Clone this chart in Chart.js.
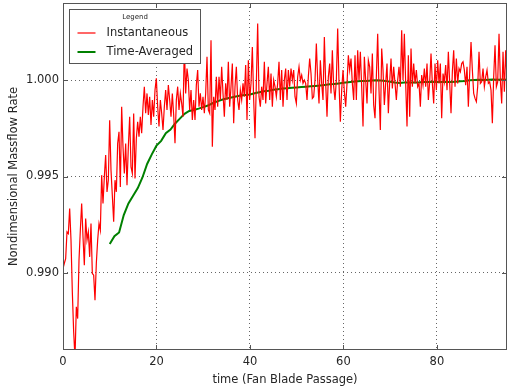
<!DOCTYPE html>
<html>
<head>
<meta charset="utf-8">
<script src="https://cdn.jsdelivr.net/npm/chart.js@4.4.1/dist/chart.umd.min.js"></script>
<style>
    body { margin: 0; background: #fff; }
    canvas { display: block; }
</style>
</head>
<body>
<canvas id="myChart" width="507" height="391"></canvas>
<script>
// spacing between samples of the instantaneous signal (fan blade passages)
const dt = 0.2853;

const instantaneous = [
    0.99022, 0.99050, 0.99074, 0.99213, 0.99204, 0.99334, 0.99170, 0.98900, 0.98694, 0.98560,
    0.98824, 0.98763, 0.99066, 0.99221, 0.99360, 0.99187, 0.99040, 0.99282, 0.99170, 0.99213,
    0.99083, 0.99256, 0.98997, 0.98988, 0.98858, 0.99050, 0.99170, 0.99256, 0.99221, 0.99507,
    0.99360, 0.99498, 0.99611, 0.99420, 0.99481, 0.99792, 0.99533, 0.99400, 0.99265, 0.99481,
    0.99420, 0.99671, 0.99732, 0.99446, 0.99862, 0.99654, 0.99516, 0.99671, 0.99455, 0.99654,
    0.99810, 0.99550, 0.99516, 0.99827, 0.99490, 0.99697,
    0.99784, 0.99707, 0.99810, 0.99724, 0.99862, 0.99966, 0.99828, 0.99931, 0.99819, 0.99914,
    0.99767, 0.99897, 0.99810, 0.99948, 1.00009, 0.99862, 0.99759, 0.99897, 0.99828, 0.99741,
    0.99862, 0.99948, 0.99845, 0.99974, 0.99897, 0.99810, 0.99931, 0.99819, 0.99672, 0.99897,
    0.99966, 0.99845, 0.99931, 0.99879, 0.99810, 1.00180, 0.99931, 1.00060, 1.00000, 0.99845,
    0.99948, 0.99793, 0.99897, 0.99793, 0.99974, 1.00052, 0.99862, 0.99931, 0.99845, 0.99914,
    0.99828, 0.99931, 1.00121,
    0.99845, 0.99828, 1.00207, 0.99655, 0.99914, 0.99845, 1.00017, 0.99862, 1.00017, 0.99897,
    1.00069, 0.99931, 0.99810, 0.99983, 0.99897, 1.00095, 0.99862, 0.99966, 1.00086, 0.99776,
    0.99966, 1.00069, 0.99897, 0.99845, 0.99948, 0.99897, 0.99983, 0.99914, 1.00078, 0.99793,
    1.00103, 0.99897, 0.99983, 1.00172, 0.99897, 0.99698, 0.99983, 1.00293, 0.99914, 0.99862,
    0.99966, 0.99897, 1.00095, 0.99879, 0.99983, 1.00069, 0.99897, 1.00034, 0.99862, 1.00000,
    0.99966, 0.99914, 0.99983, 1.00095, 0.99897, 1.00052, 0.99862,
    1.00000, 1.00060, 0.99897, 1.00052, 0.99966, 1.00060, 1.00000, 1.00052, 0.99914, 0.99879,
    1.00017, 1.00069, 1.00000, 1.00026, 0.99983, 1.00000, 0.99983, 0.99897, 1.00017, 1.00112,
    1.00034, 0.99905, 0.99914, 1.00000, 1.00190, 1.00000, 0.99879, 1.00103, 0.99983, 0.99897,
    1.00224, 0.99983, 0.99810, 1.00017, 1.00086, 0.99931, 1.00155, 0.99966, 0.99897, 1.00000,
    1.00267, 0.99983, 0.99784, 0.99948, 1.00052, 0.99940, 0.99862, 0.99983, 1.00129, 1.00052,
    1.00112, 0.99983, 0.99897, 1.00129, 0.99897, 1.00155, 1.00000,
    1.00147, 0.99966, 0.99759, 1.00121, 1.00000, 0.99879, 1.00103, 1.00069, 0.99931, 1.00138,
    0.99871, 0.99802, 1.00017, 1.00241, 0.99948, 0.99741, 1.00164, 1.00052, 0.99871, 0.99983,
    1.00086, 0.99828, 0.99991, 1.00112, 0.99957, 1.00069, 0.99983, 0.99897, 1.00000, 1.00069,
    0.99966, 1.00259, 1.00000, 1.00241, 0.99983, 0.99759, 1.00129, 0.99810, 1.00164, 0.99966,
    1.00086, 0.99983, 1.00052, 0.99966, 0.99983, 0.99862, 1.00026, 0.99974, 1.00060, 0.99966,
    1.00086, 0.99897, 0.99991, 1.00138, 0.99983, 0.99879,
    1.00086, 0.99948, 1.00103, 0.99983, 1.00086, 0.99802, 1.00034, 0.99991, 1.00078, 0.99948,
    1.00147, 0.99983, 0.99828, 1.00043, 1.00155, 0.99966, 1.00112, 0.99983, 1.00060, 1.00043,
    1.00086, 1.00095, 1.00052, 0.99974, 1.00069, 0.99862, 1.00034, 1.00198, 1.00052, 0.99931,
    0.99905, 0.99888, 0.99966, 1.00147, 0.99983, 0.99991, 1.00060, 0.99966, 1.00017, 1.00052,
    0.99983, 0.99991, 0.99948, 0.99776, 1.00017, 1.00181, 0.99966, 0.99991, 1.00241, 1.00000,
    0.99879, 1.00147, 0.99940, 1.00155, 1.00000
];

// running average, one value per passage starting at t = 10
const avgStart = 10;
const avgStep = 1;
const timeAveraged = [
    0.99150, 0.99190, 0.99210, 0.99300, 0.99360, 0.99400, 0.99440, 0.99495, 0.99565, 0.99615,
    0.99660, 0.99685, 0.99725, 0.99743, 0.99775, 0.99800, 0.99825, 0.99840, 0.99845, 0.99852,
    0.99860, 0.99868, 0.99880, 0.99890, 0.99898, 0.99905, 0.99910, 0.99915, 0.99920, 0.99923,
    0.99925, 0.99932, 0.99937, 0.99942, 0.99945, 0.99950, 0.99953, 0.99956, 0.99958, 0.99960,
    0.99962, 0.99964, 0.99966, 0.99968, 0.99970, 0.99972, 0.99975, 0.99978, 0.99980, 0.99983,
    0.99986, 0.99989, 0.99992, 0.99994, 0.99995, 0.99996, 0.99998, 0.99999, 0.99998, 0.99996,
    0.99992, 0.99988, 0.99985, 0.99987, 0.99988, 0.99987, 0.99988, 0.99990, 0.99990, 0.99991,
    0.99990, 0.99990, 0.99991, 0.99990, 0.99992, 0.99994, 0.99996, 0.99999, 1.00001, 1.00002,
    1.00001, 1.00002, 1.00003, 1.00002, 1.00003, 1.00002
];

const xTicks = [0, 20, 40, 60, 80];
const yTicks = [0.990, 0.995, 1.000];
const xRange = [0, 95];
const yRange = [0.986, 1.004];

const axisColor = '#555';
const textColor = '#262626';

// matplotlib-like frame, inward ticks and a boxed legend inside the axes
const framePlugin = {
    id: 'frame',
    afterDatasetsDraw(chart) {
        const ctx = chart.ctx;
        const a = chart.chartArea;
        const x = chart.scales.x, y = chart.scales.y;
        ctx.save();
        ctx.strokeStyle = axisColor;
        ctx.lineWidth = 1;
        ctx.strokeRect(Math.round(a.left) + 0.5, Math.round(a.top) + 0.5,
            Math.round(a.width) - 1, Math.round(a.height) - 1);
        ctx.beginPath();
        xTicks.forEach(function (v) {
            const px = Math.round(x.getPixelForValue(v)) + 0.5;
            ctx.moveTo(px, a.bottom); ctx.lineTo(px, a.bottom - 5);
            ctx.moveTo(px, a.top); ctx.lineTo(px, a.top + 5);
        });
        yTicks.forEach(function (v) {
            const py = Math.round(y.getPixelForValue(v)) + 0.5;
            ctx.moveTo(a.left, py); ctx.lineTo(a.left + 5, py);
            ctx.moveTo(a.right, py); ctx.lineTo(a.right - 5, py);
        });
        ctx.stroke();

        // legend box
        const bx = Math.round(a.left + 6) + 0.5, by = Math.round(a.top + 5.5) + 0.5;
        const bw = 131, bh = 54;
        ctx.fillStyle = '#fff';
        ctx.fillRect(bx, by, bw, bh);
        ctx.strokeStyle = axisColor;
        ctx.strokeRect(bx, by, bw, bh);
        ctx.fillStyle = textColor;
        ctx.textBaseline = 'middle';
        ctx.textAlign = 'center';
        ctx.font = '7px "DejaVu Sans"';
        ctx.fillText('Legend', bx + bw / 2, by + 7.5);
        ctx.textAlign = 'left';
        ctx.font = '11.5px "DejaVu Sans"';
        chart.data.datasets.forEach(function (ds, i) {
            const ly = by + 23.5 + i * 19;
            ctx.strokeStyle = ds.borderColor;
            ctx.lineWidth = ds.borderWidth;
            ctx.beginPath();
            ctx.moveTo(bx + 8, ly);
            ctx.lineTo(bx + 26, ly);
            ctx.stroke();
            ctx.fillText(ds.label, bx + 37, ly + 0.5);
        });
        ctx.restore();
    }
};

const ctx = document.getElementById('myChart');
let myChart = new Chart(ctx, {
    type: 'line',
    data: {
        datasets: [
            {
                label: 'Instantaneous',
                data: instantaneous.map((v, i) => ({x: i * dt, y: v})),
                borderColor: '#ff0000',
                borderWidth: 1.2,
                pointRadius: 0,
                tension: 0
            },
            {
                label: 'Time-Averaged',
                data: timeAveraged.map((v, i) => ({x: avgStart + i * avgStep, y: v})),
                borderColor: '#008000',
                borderWidth: 2,
                pointRadius: 0,
                tension: 0
            }
        ]
    },
    options: {
        responsive: false,
        animation: false,
        layout: {padding: {top: 3, right: 0, left: 0, bottom: 0}},
        plugins: {
            legend: {display: false},
            tooltip: {enabled: false}
        },
        scales: {
            x: {
                type: 'linear',
                min: xRange[0],
                max: xRange[1],
                afterBuildTicks: axis => { axis.ticks = xTicks.map(v => ({value: v})); },
                afterFit: axis => {
                    axis.height = 41;
                    axis.paddingLeft = 0;
                    axis.paddingRight = 0;
                },
                grid: {color: 'rgba(0,0,0,0.6)', lineWidth: 1, drawTicks: false},
                border: {display: false, dash: [1, 3]},
                ticks: {
                    color: textColor,
                    padding: 5,
                    maxRotation: 0,
                    font: {family: 'DejaVu Sans', size: 11.5}
                },
                title: {
                    display: true,
                    text: 'time (Fan Blade Passage)',
                    color: textColor,
                    padding: {top: 0, bottom: 4},
                    font: {family: 'DejaVu Sans', size: 11.5}
                }
            },
            y: {
                min: yRange[0],
                max: yRange[1],
                afterBuildTicks: axis => { axis.ticks = yTicks.map(v => ({value: v})); },
                afterFit: axis => {
                    axis.width = 63;
                    axis.paddingTop = 0;
                    axis.paddingBottom = 0;
                },
                grid: {color: 'rgba(0,0,0,0.6)', lineWidth: 1, drawTicks: false},
                border: {display: false, dash: [1, 3]},
                ticks: {
                    color: textColor,
                    padding: 4,
                    callback: v => v.toFixed(3),
                    font: {family: 'DejaVu Sans', size: 11.5}
                },
                title: {
                    display: true,
                    text: 'Nondimensional Massflow Rate',
                    color: textColor,
                    padding: {top: 7, bottom: 0},
                    font: {family: 'DejaVu Sans', size: 11.5}
                }
            }
        }
    },
    plugins: [framePlugin]
});
</script>
</body>
</html>
